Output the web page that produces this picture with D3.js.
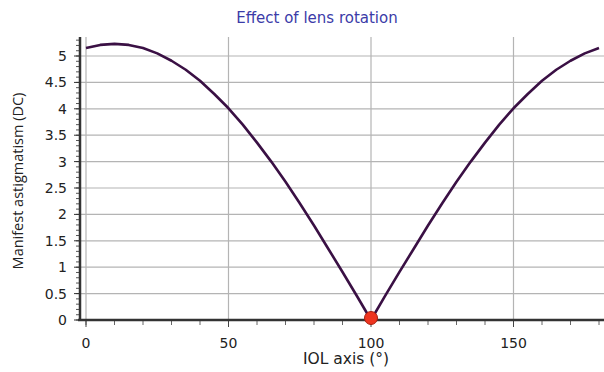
<!DOCTYPE html>
<html><head><meta charset="utf-8">
<script src="https://cdn.jsdelivr.net/npm/d3@7"></script>
<style>body{margin:0;background:#fff;}svg{display:block;}</style>
</head><body>
<svg id="c" width="604" height="372"></svg>
<script>
const title = "Effect of lens rotation";
const xLabel = "IOL axis (°)";
const yLabel = "Manifest astigmatism (DC)";
const axisDeg = [0,5,10,15,20,25,30,35,40,45,50,55,60,65,70,75,80,85,90,95,100,105,110,115,120,125,130,135,140,145,150,155,160,165,170,175,180];
const astig = [5.15,5.21,5.23,5.21,5.15,5.05,4.91,4.74,4.53,4.28,4.01,3.70,3.36,3.00,2.62,2.21,1.79,1.35,0.91,0.46,0.00,0.46,0.91,1.35,1.79,2.21,2.62,3.00,3.36,3.70,4.01,4.28,4.53,4.74,4.91,5.05,5.15];
const markerX = [100];
const markerY = [0];
const xTicks = [0,50,100,150];
const yTicks = [0,0.5,1,1.5,2,2.5,3,3.5,4,4.5,5];

const svg = d3.select("#c");
const x = d3.scaleLinear().domain([0,180]).range([86,599]);
const y = d3.scaleLinear().domain([0,5.36]).range([320,37]);
const pL = 80, pR = 604, pT = 37, pB = 320;

// grid
svg.append("g").selectAll("line").data(yTicks.slice(1)).join("line")
  .attr("x1",pL).attr("x2",pR).attr("y1",d=>y(d)).attr("y2",d=>y(d))
  .attr("stroke","#b4b4b4").attr("stroke-width",1.2);
svg.append("g").selectAll("line").data(xTicks).join("line")
  .attr("x1",d=>x(d)).attr("x2",d=>x(d)).attr("y1",pT).attr("y2",pB)
  .attr("stroke","#b4b4b4").attr("stroke-width",1.2);

// y axis
const yMinor = d3.range(0,5.31,0.1);
const yAx = svg.append("g").attr("transform",`translate(${pL},0)`);
yAx.selectAll("line.m").data(yMinor).join("line").attr("class","m")
  .attr("x1",-4).attr("x2",0).attr("y1",d=>y(d)).attr("y2",d=>y(d))
  .attr("stroke","#555").attr("stroke-width",1);
yAx.selectAll("line.M").data(yTicks).join("line").attr("class","M")
  .attr("x1",-6).attr("x2",0).attr("y1",d=>y(d)).attr("y2",d=>y(d))
  .attr("stroke","#333").attr("stroke-width",1);
yAx.selectAll("text").data(yTicks).join("text")
  .attr("x",-13).attr("y",d=>y(d)).attr("dy","0.36em").attr("text-anchor","end")
  .attr("font-family","DejaVu Sans, Verdana, sans-serif").attr("font-size",14).attr("fill","#222")
  .text(d=>d3.format("")(d));
svg.append("line").attr("x1",pL).attr("x2",pL).attr("y1",pT).attr("y2",pB+1)
  .attr("stroke","#333").attr("stroke-width",2.5);

// x axis
const xMinor = d3.range(0,181,10);
const xAx = svg.append("g").attr("transform",`translate(0,${pB})`);
xAx.selectAll("line.m").data(xMinor).join("line").attr("class","m")
  .attr("x1",d=>x(d)).attr("x2",d=>x(d)).attr("y1",0).attr("y2",5)
  .attr("stroke","#666").attr("stroke-width",1);
xAx.selectAll("line.M").data(xTicks).join("line").attr("class","M")
  .attr("x1",d=>x(d)).attr("x2",d=>x(d)).attr("y1",0).attr("y2",7)
  .attr("stroke","#444").attr("stroke-width",1);
xAx.selectAll("text").data(xTicks).join("text")
  .attr("x",d=>x(d)).attr("y",28).attr("text-anchor","middle")
  .attr("font-family","DejaVu Sans, Verdana, sans-serif").attr("font-size",14).attr("fill","#222")
  .text(d=>d);
svg.append("line").attr("x1",pL-2).attr("x2",pR).attr("y1",pB).attr("y2",pB)
  .attr("stroke","#333").attr("stroke-width",2.5);

// line
const pts = axisDeg.map((d,i)=>[d,astig[i]]);
svg.append("path").datum(pts)
  .attr("d",d3.line().x(d=>x(d[0])).y(d=>y(d[1])))
  .attr("fill","none").attr("stroke","#3a1044").attr("stroke-width",2.6).attr("stroke-linejoin","round");

// marker
svg.selectAll("circle.mk").data(markerX.map((d,i)=>[d,markerY[i]])).join("circle").attr("class","mk")
  .attr("cx",d=>x(d[0])).attr("cy",d=>y(d[1])-2).attr("r",6.5)
  .attr("fill","#ee3520").attr("stroke","#a82010").attr("stroke-width",1);

// titles
svg.append("text").attr("x",317).attr("y",23).attr("text-anchor","middle")
  .attr("font-family","DejaVu Sans, Verdana, sans-serif").attr("font-size",15).attr("fill","#3b3ba8")
  .text(title);
svg.append("text").attr("x",346).attr("y",364).attr("text-anchor","middle")
  .attr("font-family","DejaVu Sans, Verdana, sans-serif").attr("font-size",15.5).attr("fill","#222")
  .text(xLabel);
svg.append("text").attr("transform","translate(23,181) rotate(-90)").attr("text-anchor","middle")
  .attr("font-family","Open Sans, sans-serif").attr("font-size",14.5).attr("fill","#222")
  .text(yLabel);
</script>
</body></html>
